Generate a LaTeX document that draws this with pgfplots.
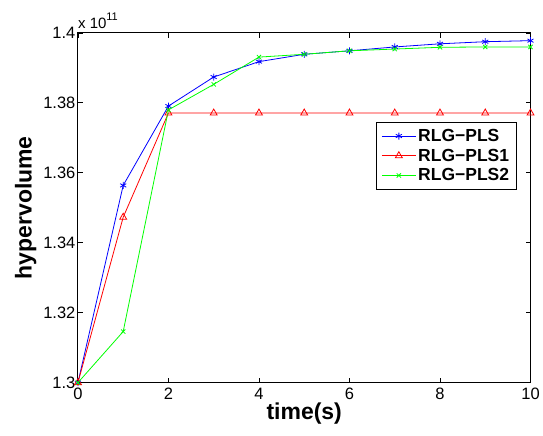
\documentclass[border=0pt]{standalone}
\usepackage{pgfplots}
\pgfplotsset{compat=1.18}
\usepackage{fontspec}
\setmainfont{Liberation Sans}
\definecolor{mblue}{RGB}{0,0,255}
\definecolor{mred}{RGB}{255,0,0}
\definecolor{mgreen}{RGB}{0,255,0}

\begin{document}
\begin{tikzpicture}
\begin{axis}[
  scale only axis,
  width=453pt, height=350pt,
  xmin=0, xmax=10, ymin=1.30, ymax=1.40,
  xtick={0,2,4,6,8,10},
  ytick={1.30,1.32,1.34,1.36,1.38,1.40},
  yticklabels={1.3,1.32,1.34,1.36,1.38,1.4},
  tick align=inside, xtick pos=both, ytick pos=both,
  major tick length=5pt,
  tick style={black, line width=0.8pt},
  axis line style={black, line width=1pt},
  /pgf/number format/assume math mode=true,
  tick label style={font=\fontsize{16.5}{18}\selectfont},
  xticklabel style={yshift=-2pt},
  yticklabel style={xshift=1pt},
  xlabel={\textbf{time(s)}},
  ylabel={\textbf{hypervolume}},
  label style={font=\fontsize{23}{25}\selectfont},
  xlabel style={yshift=4pt},
  ylabel style={yshift=0pt},
  legend style={at={(0.969,0.746)}, anchor=north east, draw=black, line width=0.8pt,
    font=\fontsize{17.5}{19}\selectfont\bfseries, row sep=2pt, inner xsep=5pt, inner ysep=5pt},
  legend cell align=left,
  legend image code/.code={\draw[mark repeat=2, mark phase=2, line width=0.8pt]
    plot coordinates {(0pt,0pt) (17pt,0pt) (34pt,0pt)};},
]
\addplot[color=mblue, line width=0.8pt, mark=asterisk, mark size=3.5pt] coordinates {
  (0,1.3000) (1,1.3564) (2,1.3791) (3,1.3874) (4,1.3918) (5,1.3939)
  (6,1.3949) (7,1.3960) (8,1.3969) (9,1.3975) (10,1.3978)};
\addlegendentry{RLG\textminus PLS}
\addplot[color=mred, line width=0.8pt, mark=triangle, mark size=4pt] coordinates {
  (0,1.3000) (1,1.3473) (2,1.3771) (3,1.3771) (4,1.3771) (5,1.3771)
  (6,1.3771) (7,1.3771) (8,1.3771) (9,1.3771) (10,1.3771)};
\addlegendentry{RLG\textminus PLS1\hspace{10pt}}
\addplot[color=mgreen, line width=0.8pt, mark=x, mark size=3pt] coordinates {
  (0,1.3000) (1,1.3146) (2,1.3780) (3,1.3853) (4,1.3931) (5,1.3939)
  (6,1.3949) (7,1.3954) (8,1.3959) (9,1.3960) (10,1.3960)};
\addlegendentry{RLG\textminus PLS2\hspace{10pt}}
\end{axis}
\node[anchor=south west, font=\fontsize{15}{17}\selectfont, inner sep=0pt] at ([yshift=4pt]current axis.north west) {x 10\raisebox{8pt}{\fontsize{11}{12}\selectfont 11}};
\path ([shift={(-78pt,-53pt)}]current axis.south west) rectangle ([shift={(12pt,33pt)}]current axis.north east);
\end{tikzpicture}
\end{document}
